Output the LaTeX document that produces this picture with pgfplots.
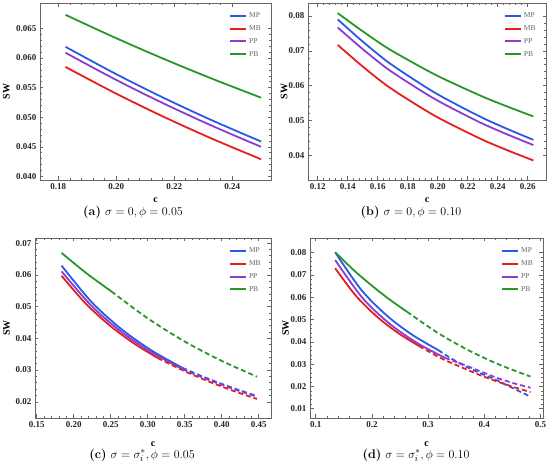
\documentclass[border=0pt]{standalone}
\usepackage{pgfplots}
\pgfplotsset{compat=1.18}
\usepackage{fontspec}
\newfontfamily\tickfont{Liberation Serif}
\definecolor{cMP}{RGB}{40,90,230}
\definecolor{cMB}{RGB}{230,30,30}
\definecolor{cPP}{RGB}{140,60,210}
\definecolor{cPB}{RGB}{40,150,40}
\pgfplotsset{
 swstyle/.style={
  scale only axis,
  axis line style={black!60, line width=0.8pt},
  every tick/.style={black!60, line width=0.6pt},
  major tick length=3.5pt, minor tick length=2pt,
  tick align=inside,
  minor x tick num=4, minor y tick num=4,
  scaled x ticks=false, scaled y ticks=false,
  /pgf/number format/assume math mode=true,
  tick label style={font=\tickfont\bfseries\fontsize{9}{10}\selectfont, black!85},
  label style={font=\tickfont\bfseries\fontsize{10}{11}\selectfont},
  xlabel={c}, ylabel={SW},
  legend style={draw=none, fill=none, at={(0.97,0.965)}, anchor=north east,
    font=\tickfont\fontsize{7.5}{8}\selectfont, text=black!60, row sep=2.5pt, inner sep=1pt},
  legend cell align=left,
  legend image code/.code={\draw[#1, line width=2pt, solid] (0pt,0pt) -- (16pt,0pt);},
  every axis plot/.append style={line width=1.8pt, no markers, smooth},
  dsh/.style={dash pattern=on 5pt off 3pt, forget plot},
 }
}
\begin{document}
\begin{tikzpicture}
\path[use as bounding box] (0,0) rectangle (550pt,472pt);
% ---------------- (a)
\begin{axis}[swstyle, at={(40pt,292pt)}, anchor=south west, width=231pt, height=177pt,
 xmin=0.1737, xmax=0.2534, ymin=0.0394, ymax=0.0693,
 xtick={0.18,0.20,0.22,0.24}, ytick={0.040,0.045,0.050,0.055,0.060,0.065},
 xticklabel style={/pgf/number format/.cd, fixed, fixed zerofill, precision=2},
 yticklabel style={/pgf/number format/.cd, fixed, fixed zerofill, precision=3},
 xlabel style={at={(axis description cs:0.5,-0.115)}, anchor=center},
 ylabel style={at={(axis description cs:-0.145,0.5)}, anchor=center}]
\addplot[cMP] coordinates {(0.1825,0.0619) (0.19938,0.05744) (0.21625,0.05330) (0.23313,0.04946) (0.25,0.0459)};
\addlegendentry{MP}
\addplot[cMB] coordinates {(0.1825,0.0585) (0.19938,0.05414) (0.21625,0.05010) (0.23313,0.04636) (0.25,0.0429)};
\addlegendentry{MB}
\addplot[cPP] coordinates {(0.1825,0.0609) (0.19938,0.05646) (0.21625,0.05235) (0.23313,0.04854) (0.25,0.0450)};
\addlegendentry{PP}
\addplot[cPB] coordinates {(0.1825,0.0673) (0.19938,0.06349) (0.21625,0.05989) (0.23313,0.05650) (0.25,0.0533)};
\addlegendentry{PB}
\end{axis}
% ---------------- (b)
\begin{axis}[swstyle, at={(308pt,292pt)}, anchor=south west, width=238pt, height=177pt,
 xmin=0.1135, xmax=0.2722, ymin=0.033, ymax=0.0837,
 xtick={0.12,0.14,0.16,0.18,0.20,0.22,0.24,0.26}, ytick={0.04,0.05,0.06,0.07,0.08},
 xticklabel style={/pgf/number format/.cd, fixed, fixed zerofill, precision=2},
 yticklabel style={/pgf/number format/.cd, fixed, fixed zerofill, precision=2},
 xlabel style={at={(axis description cs:0.5,-0.113)}, anchor=center},
 ylabel style={at={(axis description cs:-0.10,0.5)}, anchor=center}]
\addplot[cMP] coordinates {(0.1333,0.0790) (0.1496,0.07279) (0.16593,0.06707) (0.1822,0.06231) (0.19855,0.05789) (0.2149,0.05409) (0.23118,0.05054) (0.2475,0.04742) (0.2638,0.0445)};
\addlegendentry{MP}
\addplot[cMB] coordinates {(0.1333,0.0717) (0.1496,0.06564) (0.16593,0.06009) (0.1822,0.05551) (0.19855,0.05127) (0.2149,0.04765) (0.23118,0.04428) (0.2475,0.04134) (0.2638,0.0386)};
\addlegendentry{MB}
\addplot[cPP] coordinates {(0.1333,0.0767) (0.1496,0.07063) (0.16593,0.06503) (0.1822,0.06039) (0.19855,0.05607) (0.2149,0.05236) (0.23118,0.04889) (0.2475,0.04585) (0.2638,0.0430)};
\addlegendentry{PP}
\addplot[cPB] coordinates {(0.1333,0.0808) (0.1496,0.07571) (0.16593,0.07094) (0.1822,0.06691) (0.19855,0.06311) (0.2149,0.05980) (0.23118,0.05666) (0.2475,0.05386) (0.2638,0.0512)};
\addlegendentry{PB}
\end{axis}
% ---------------- (c)
\begin{axis}[swstyle, at={(35pt,54pt)}, anchor=south west, width=236pt, height=180pt,
 xmin=0.1477, xmax=0.4667, ymin=0.0149, ymax=0.0716,
 xtick={0.15,0.20,0.25,0.30,0.35,0.40,0.45}, ytick={0.02,0.03,0.04,0.05,0.06,0.07},
 xticklabel style={/pgf/number format/.cd, fixed, fixed zerofill, precision=2},
 yticklabel style={/pgf/number format/.cd, fixed, fixed zerofill, precision=2},
 xlabel style={at={(axis description cs:0.5,-0.145)}, anchor=center},
 ylabel style={at={(axis description cs:-0.12,0.5)}, anchor=center}]
\addplot[cMP] coordinates {(0.1836,0.0629) (0.22445,0.05136) (0.2653,0.04275) (0.30615,0.03604) (0.347,0.0307)};
\addlegendentry{MP}
\addplot[cMB] coordinates {(0.1836,0.0597) (0.21605,0.05099) (0.2485,0.04409) (0.28095,0.03847) (0.3134,0.0338)};
\addlegendentry{MB}
\addplot[cPP] coordinates {(0.1836,0.0611) (0.22445,0.05012) (0.2653,0.04188) (0.30615,0.03544) (0.347,0.0303)};
\addlegendentry{PP}
\addplot[cPB] coordinates {(0.1836,0.0669) (0.2172,0.0605) (0.2508,0.0548)};
\addlegendentry{PB}
\addplot[cMP, dsh] coordinates {(0.347,0.0307) (0.3722,0.02818) (0.3975,0.02587) (0.4227,0.02375) (0.4479,0.0218)};
\addplot[cMB, dsh] coordinates {(0.3134,0.0338) (0.34703,0.02997) (0.38065,0.02658) (0.41428,0.02357) (0.4479,0.0209)};
\addplot[cPP, dsh] coordinates {(0.347,0.0303) (0.3722,0.02784) (0.3975,0.02558) (0.4227,0.02351) (0.4479,0.0216)};
\addplot[cPB, dsh] coordinates {(0.2508,0.0548) (0.30,0.0463) (0.35,0.0390) (0.40,0.0329) (0.4479,0.0279)};
\end{axis}
% ---------------- (d)
\begin{axis}[swstyle, at={(310pt,54pt)}, anchor=south west, width=233pt, height=180pt,
 xmin=0.0898, xmax=0.5045, ymin=0.0058, ymax=0.0866,
 xtick={0.1,0.2,0.3,0.4,0.5}, ytick={0.01,0.02,0.03,0.04,0.05,0.06,0.07,0.08},
 xticklabel style={/pgf/number format/.cd, fixed, fixed zerofill, precision=1},
 yticklabel style={/pgf/number format/.cd, fixed, fixed zerofill, precision=2},
 xlabel style={at={(axis description cs:0.5,-0.145)}, anchor=center},
 ylabel style={at={(axis description cs:-0.105,0.5)}, anchor=center}]
\addplot[cMP] coordinates {(0.1346,0.0802) (0.18045,0.0635) (0.2263,0.05182) (0.27215,0.04308) (0.318,0.0363)};
\addlegendentry{MP}
\addplot[cMB] coordinates {(0.1346,0.0730) (0.17193,0.06052) (0.20925,0.05122) (0.24658,0.04395) (0.2839,0.0381)};
\addlegendentry{MB}
\addplot[cPP] coordinates {(0.1346,0.0767) (0.18345,0.05962) (0.2323,0.04795) (0.28115,0.03937) (0.330,0.0328)};
\addlegendentry{PP}
\addplot[cPB] coordinates {(0.1346,0.0802) (0.1665,0.07243) (0.1985,0.0655) (0.2304,0.05918) (0.2624,0.0535)};
\addlegendentry{PB}
\addplot[cMP, dsh] coordinates {(0.318,0.0363) (0.34,0.0327) (0.3628,0.0295) (0.39,0.0262) (0.4226,0.0227) (0.45,0.0193) (0.4823,0.0154)};
\addplot[cMB, dsh] coordinates {(0.2839,0.0381) (0.3233,0.0326) (0.3628,0.0282) (0.3927,0.0250) (0.4226,0.0222) (0.4525,0.0197) (0.4823,0.0174)};
\addplot[cPP, dsh] coordinates {(0.330,0.0328) (0.3628,0.0298) (0.3925,0.0268) (0.4226,0.0238) (0.4525,0.0214) (0.4823,0.0194)};
\addplot[cPB, dsh] coordinates {(0.2624,0.0535) (0.3174,0.04397) (0.3724,0.03613) (0.4273,0.02969) (0.4823,0.0244)};
\end{axis}
% ---------------- captions
\node[font=\fontsize{12.5}{14}\selectfont] at (133pt,260pt) {\textbf{(a)} $\sigma = 0, \phi = 0.05$};
\node[font=\fontsize{12.5}{14}\selectfont] at (411pt,260pt) {\textbf{(b)} $\sigma = 0, \phi = 0.10$};
\node[font=\fontsize{12.5}{14}\selectfont] at (142pt,17pt) {\textbf{(c)} $\sigma = \sigma_i^{*}, \phi = 0.05$};
\node[font=\fontsize{12.5}{14}\selectfont] at (416pt,17pt) {\textbf{(d)} $\sigma = \sigma_i^{*}, \phi = 0.10$};
\end{tikzpicture}
\end{document}
